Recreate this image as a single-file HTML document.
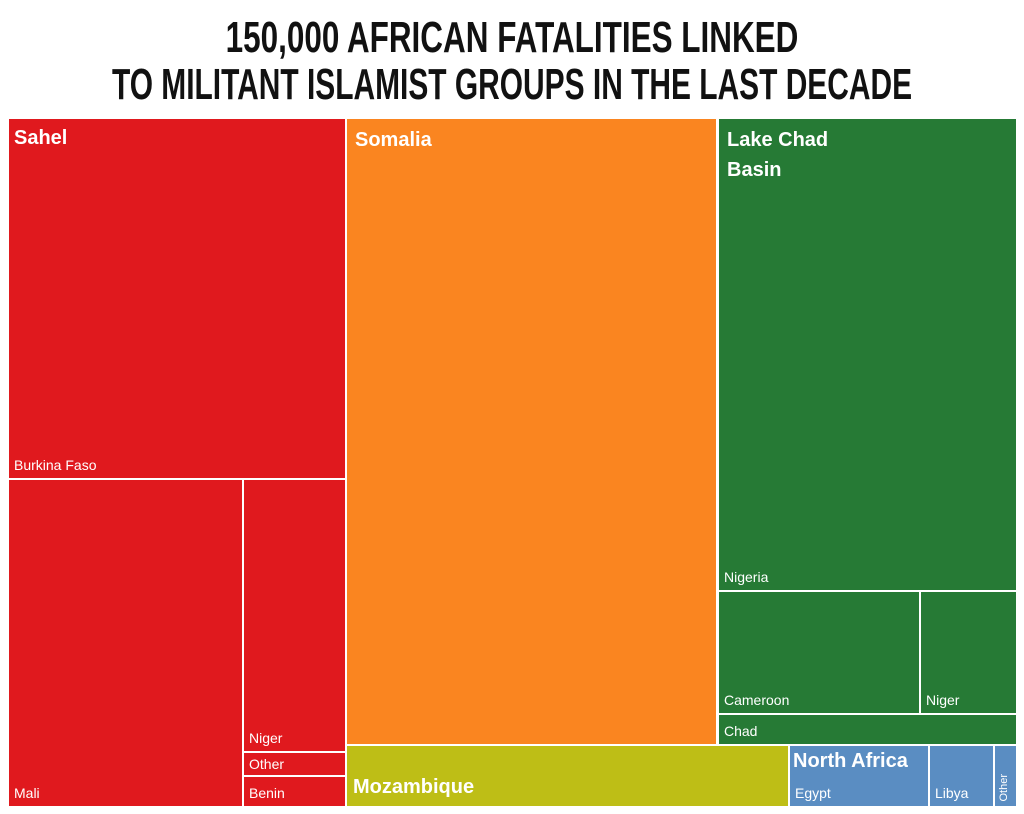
<!DOCTYPE html>
<html><head><meta charset="utf-8"><style>
body{margin:0;width:1024px;height:814px;background:#fff;position:relative;overflow:hidden;font-family:"Liberation Sans",sans-serif}
.t{position:absolute;left:-488px;width:2000px;text-align:center;white-space:nowrap;font-weight:bold;font-size:44px;color:#111;line-height:44px;transform-origin:1000px 0}
.b{position:absolute;color:#fff;box-sizing:border-box}
.h{position:absolute;left:5px;top:8px;font-weight:bold;font-size:20px;line-height:30px}
.s{position:absolute;left:5px;bottom:5px;font-size:14px}
.r{background:#E0191E}.o{background:#FA8520}.g{background:#267A35}.y{background:#BEBE16}.bl{background:#5A8DC2}
</style></head><body>
<div class="t" style="top:16px;transform:scaleX(0.715)">150,000 AFRICAN FATALITIES LINKED</div>
<div class="t" style="top:63px;transform:scaleX(0.68)">TO MILITANT ISLAMIST GROUPS IN THE LAST DECADE</div>

<div class="b r" style="left:9px;top:119px;width:336px;height:359px"><div class="h" style="top:4px">Sahel</div><div class="s">Burkina Faso</div></div>
<div class="b r" style="left:9px;top:480px;width:233px;height:326px"><div class="s">Mali</div></div>
<div class="b r" style="left:244px;top:480px;width:101px;height:271px"><div class="s">Niger</div></div>
<div class="b r" style="left:244px;top:753px;width:101px;height:22px"><div class="s" style="bottom:3px">Other</div></div>
<div class="b r" style="left:244px;top:777px;width:101px;height:29px"><div class="s">Benin</div></div>

<div class="b o" style="left:347px;top:119px;width:369px;height:625px"><div class="h" style="left:8px;top:6px">Somalia</div></div>
<div class="b y" style="left:347px;top:746px;width:441px;height:60px"><div class="h" style="left:6px;top:26px">Mozambique</div></div>

<div class="b g" style="left:719px;top:119px;width:297px;height:471px"><div class="h" style="left:8px;top:6px;line-height:30px">Lake Chad<br>Basin</div><div class="s">Nigeria</div></div>
<div class="b g" style="left:719px;top:592px;width:200px;height:121px"><div class="s">Cameroon</div></div>
<div class="b g" style="left:921px;top:592px;width:95px;height:121px"><div class="s">Niger</div></div>
<div class="b g" style="left:719px;top:715px;width:297px;height:29px"><div class="s">Chad</div></div>

<div class="b bl" style="left:790px;top:746px;width:138px;height:60px"><div class="h" style="left:3px;top:0px">North Africa</div><div class="s">Egypt</div></div>
<div class="b bl" style="left:930px;top:746px;width:63px;height:60px"><div class="s">Libya</div></div>
<div class="b bl" style="left:995px;top:746px;width:21px;height:60px"><div style="position:absolute;left:3px;bottom:4px;font-size:11px;writing-mode:vertical-rl;transform:rotate(180deg)">Other</div></div>
</body></html>
